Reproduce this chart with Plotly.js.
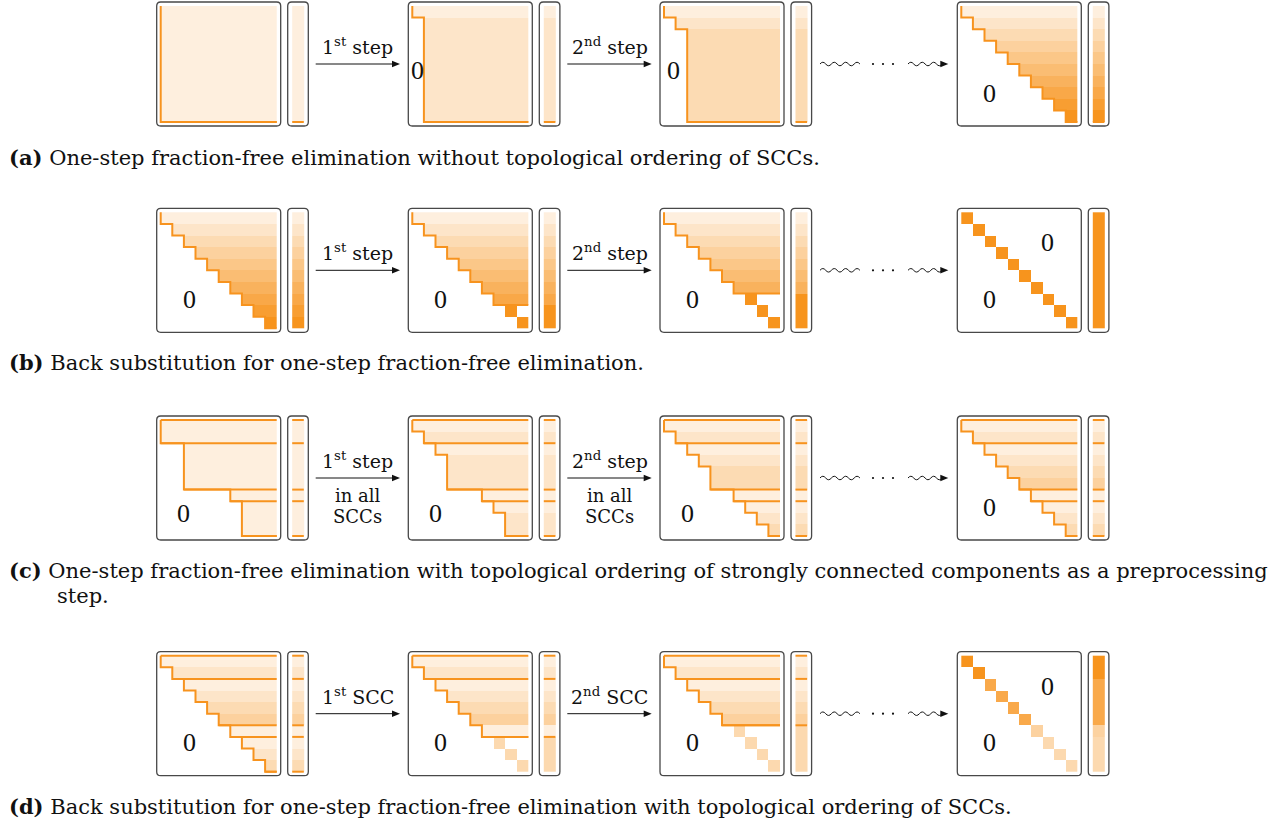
<!DOCTYPE html>
<html><head><meta charset="utf-8">
<script src="https://cdn.plot.ly/plotly-3.0.1.min.js"></script>
<style>html,body{margin:0;padding:0;background:#fff}#chart{width:1273px;height:823px}</style>
</head><body><div id="chart"></div>
<script>
// ---------------- data ----------------
// Each matrix is 10x10. "start" = first nonzero column of each row (-1 = only the diagonal entry),
// "level" = shade level of each row (0 = white ... 10 = full orange).
const D = -1;
// (a) one-step fraction-free elimination
const a1Start = [0,0,0,0,0,0,0,0,0,0], a1Level = [1,1,1,1,1,1,1,1,1,1];
const a2Start = [0,1,1,1,1,1,1,1,1,1], a2Level = [1,2,2,2,2,2,2,2,2,2];
const a3Start = [0,1,2,2,2,2,2,2,2,2], a3Level = [1,2,3,3,3,3,3,3,3,3];
const a4Start = [0,1,2,3,4,5,6,7,8,9], a4Level = [1,2,3,4,5,6,7,8,9,10];
// (b) back substitution
const b1Start = [0,1,2,3,4,5,6,7,8,9], b1Level = [1,2,3,4,5,6,7,8,9,10];
const b2Start = [0,1,2,3,4,5,6,7,D,D], b2Level = [1,2,3,4,5,6,7,8,10,10];
const b3Start = [0,1,2,3,4,5,6,D,D,D], b3Level = [1,2,3,4,5,6,7,10,10,10];
const b4Start = [D,D,D,D,D,D,D,D,D,D], b4Level = [10,10,10,10,10,10,10,10,10,10];
// (c) elimination with SCC ordering (SCC sizes 2,4,1,3)
const sccBounds = [0,2,6,7,10];
const c1Start = [0,0,2,2,2,2,6,7,7,7], c1Level = [1,1,1,1,1,1,1,1,1,1];
const c2Start = [0,1,2,3,3,3,6,7,8,8], c2Level = [1,2,1,2,2,2,1,1,2,2];
const c3Start = [0,1,2,3,4,4,6,7,8,9], c3Level = [1,2,1,2,3,3,1,1,2,3];
const c4Start = [0,1,2,3,4,5,6,7,8,9], c4Level = [1,2,1,2,3,4,1,1,2,3];
// (d) back substitution with SCC ordering
const d1Start = [0,1,2,3,4,5,6,7,8,9], d1Level = [1,2,1,2,3,4,1,1,2,3];
const d2Start = [0,1,2,3,4,5,6,D,D,D], d2Level = [1,2,1,2,3,4,1,3.2,3.2,3.2];
const d3Start = [0,1,2,3,4,5,D,D,D,D], d3Level = [1,2,1,2,3,4,3.2,3.2,3.2,3.2];
const d4Start = [D,D,D,D,D,D,D,D,D,D], d4Level = [10,10,7.9,7.9,7.9,7.9,3.9,3.2,3.2,3.2];
const d2Bounds = [0,2,7], d3Bounds = [0,2,6];

const stepLabels = [
  ['1<sup>st</sup> step','2<sup>nd</sup> step'],
  ['1<sup>st</sup> step','2<sup>nd</sup> step'],
  ['1<sup>st</sup> step','2<sup>nd</sup> step'],
  ['1<sup>st</sup> SCC','2<sup>nd</sup> SCC']
];
const subLabels = [[],[],['in all','SCCs'],[]];
const captions = [
  ['(a)','One-step fraction-free elimination without topological ordering of SCCs.'],
  ['(b)','Back substitution for one-step fraction-free elimination.'],
  ['(c)','One-step fraction-free elimination with topological ordering of strongly connected components as a preprocessing'],
  ['(d)','Back substitution for one-step fraction-free elimination with topological ordering of SCCs.']
];
const captionCont = 'step.';

// ---------------- layout geometry ----------------
const N = 10, CELL = 11.6, PAD = 4, BOX = N*CELL + 2*PAD;
const VEC_OFF = 131, VPAD = 4.5, VEC_W = CELL + 2*VPAD;
const panelLeft = [156.7, 408.3, 660, 957.3];
const rowTop = [2, 208.3, 416, 651.7];
const captionY = [157, 362, 570, 806];
const ORANGE = '#f7931e', BORDER = '#484848';
const FONT = 'Liberation Serif, Times New Roman, serif';
const WIDE = 'DejaVu Serif, serif';

const TRI0 = [32.5, 91], SCC0 = [27, 97];
const panels = [
  {r:0,c:0,start:a1Start,level:a1Level,stair:10,hl:[10],zeros:[]},
  {r:0,c:1,start:a2Start,level:a2Level,stair:10,hl:[10],zeros:[[8.8,68]]},
  {r:0,c:2,start:a3Start,level:a3Level,stair:10,hl:[10],zeros:[[13.5,68]]},
  {r:0,c:3,start:a4Start,level:a4Level,stair:10,hl:[10],zeros:[TRI0]},
  {r:1,c:0,start:b1Start,level:b1Level,stair:10,hl:[],zeros:[TRI0]},
  {r:1,c:1,start:b2Start,level:b2Level,stair:8,hl:[],zeros:[TRI0]},
  {r:1,c:2,start:b3Start,level:b3Level,stair:7,hl:[],zeros:[TRI0]},
  {r:1,c:3,start:b4Start,level:b4Level,stair:0,hl:[],zeros:[[90,34.5],TRI0]},
  {r:2,c:0,start:c1Start,level:c1Level,stair:10,hl:sccBounds,zeros:[SCC0]},
  {r:2,c:1,start:c2Start,level:c2Level,stair:10,hl:sccBounds,zeros:[SCC0]},
  {r:2,c:2,start:c3Start,level:c3Level,stair:10,hl:sccBounds,zeros:[SCC0]},
  {r:2,c:3,start:c4Start,level:c4Level,stair:10,hl:sccBounds,zeros:[TRI0]},
  {r:3,c:0,start:d1Start,level:d1Level,stair:10,hl:sccBounds,zeros:[TRI0]},
  {r:3,c:1,start:d2Start,level:d2Level,stair:7,hl:d2Bounds,zeros:[TRI0]},
  {r:3,c:2,start:d3Start,level:d3Level,stair:6,hl:d3Bounds,zeros:[TRI0]},
  {r:3,c:3,start:d4Start,level:d4Level,stair:0,hl:[],zeros:[[90,34.5],TRI0]}
];

const colorscale = [[0,'#ffffff'],[1,'#f7941d']];
const ZMIN = -0.53, ZMAX = 10;

const traces = [], shapes = [], annotations = [];

function rrect(x0,y0,x1,y1,r){
  return `M${x0+r},${y0} H${x1-r} Q${x1},${y0} ${x1},${y0+r} V${y1-r} Q${x1},${y1} ${x1-r},${y1} H${x0+r} Q${x0},${y1} ${x0},${y1-r} V${y0+r} Q${x0},${y0} ${x0+r},${y0} Z`;
}

panels.forEach(p => {
  const L = panelLeft[p.c], T = rowTop[p.r];
  const X = col => L + PAD + col*CELL;
  const Y = row => T + PAD + row*CELL;
  const VL = L + VEC_OFF + VPAD;
  // matrix cells
  const z = [];
  for (let i = 0; i < N; i++) {
    const row = [];
    for (let j = 0; j < N; j++) {
      const s = p.start[i];
      row.push((s === D ? j === i : j >= s) ? p.level[i] : null);
    }
    z.push(row);
  }
  traces.push({type:'heatmap', z, x0:L+PAD+CELL/2, dx:CELL, y0:T+PAD+CELL/2, dy:CELL,
    colorscale, zmin:ZMIN, zmax:ZMAX, showscale:false, hoverinfo:'skip'});
  // right-hand side vector
  traces.push({type:'heatmap', z:p.level.map(v=>[v]), x0:VL+CELL/2, dx:CELL, y0:T+PAD+CELL/2, dy:CELL,
    colorscale, zmin:ZMIN, zmax:ZMAX, showscale:false, hoverinfo:'skip'});
  // orange outline (staircase + block boundaries)
  const lx = [], ly = [];
  if (p.stair > 0) {
    lx.push(X(p.start[0])); ly.push(Y(0));
    for (let i = 0; i < p.stair; i++) {
      lx.push(X(p.start[i])); ly.push(Y(i+1));
      if (i < p.stair-1) { lx.push(X(p.start[i+1])); ly.push(Y(i+1)); }
    }
    lx.push(X(N)); ly.push(Y(p.stair));
    lx.push(null); ly.push(null);
  }
  p.hl.forEach(b => {
    const s = b === 0 ? p.start[0] : p.start[b-1];
    lx.push(X(s), X(N), null); ly.push(Y(b), Y(b), null);
    lx.push(VL, VL+CELL, null); ly.push(Y(b), Y(b), null);
  });
  if (lx.length) traces.push({type:'scatter', mode:'lines', x:lx, y:ly, hoverinfo:'skip',
    line:{color:ORANGE, width:2}, connectgaps:false});
  // boxes
  shapes.push({type:'path', path:rrect(L,T,L+BOX,T+BOX,4), line:{color:BORDER,width:1.3}, layer:'above'});
  shapes.push({type:'path', path:rrect(L+VEC_OFF,T,L+VEC_OFF+VEC_W,T+BOX,4), line:{color:BORDER,width:1.3}, layer:'above'});
  // zero labels
  p.zeros.forEach(zp => annotations.push({x:L+zp[0], y:T+zp[1], text:'0', showarrow:false,
    xanchor:'center', yanchor:'middle', font:{family:FONT,size:26,color:'#111'}}));
});

// arrows between panels
function arrowHead(xt, y){
  return `M${xt},${y} L${xt-8},${y-3.2} L${xt-8},${y+3.2} Z`;
}
rowTop.forEach((T, r) => {
  const yc = T + BOX/2;
  for (let k = 0; k < 2; k++) {
    const x1 = panelLeft[k] + 159, x2 = panelLeft[k+1] - 8.3;
    shapes.push({type:'line', x0:x1, x1:x2-6, y0:yc, y1:yc, line:{color:'#111',width:1}});
    shapes.push({type:'path', path:arrowHead(x2,yc), fillcolor:'#111', line:{width:0}});
    annotations.push({x:(x1+x2)/2, y:yc-18, text:stepLabels[r][k], showarrow:false,
      xanchor:'center', yanchor:'middle', font:{family:WIDE,size:19,color:'#111'}});
    subLabels[r].forEach((t, m) => annotations.push({x:(x1+x2)/2, y:yc+17+21*m, text:t, showarrow:false,
      xanchor:'center', yanchor:'middle', font:{family:WIDE,size:18,color:'#111'}}));
  }
  // wavy "continue" arrow
  const wx0 = panelLeft[2] + 160, half = 5.7;
  let path = `M${wx0},${yc}`;
  for (let h = 0; h < 7; h++) {
    const xs = wx0 + h*half, sgn = h % 2 ? 1 : -1;
    path += ` Q${xs+half/2},${yc+sgn*3.5} ${xs+half},${yc}`;
  }
  shapes.push({type:'path', path, line:{color:'#111',width:1}});
  const wx1 = panelLeft[2] + 248;
  path = `M${wx1},${yc}`;
  for (let h = 0; h < 6; h++) {
    const xs = wx1 + h*half, sgn = h % 2 ? 1 : -1;
    path += ` Q${xs+half/2},${yc+sgn*3.5} ${xs+half},${yc}`;
  }
  shapes.push({type:'path', path, line:{color:'#111',width:1}});
  const tip = panelLeft[3] - 9;
  shapes.push({type:'path', path:arrowHead(tip,yc), fillcolor:'#111', line:{width:0}});
  [213, 223, 233].forEach(dx => shapes.push({type:'circle', x0:panelLeft[2]+dx-1.1, x1:panelLeft[2]+dx+1.1,
    y0:yc-1.1, y1:yc+1.1, fillcolor:'#111', line:{width:0}}));
});

// captions
captions.forEach((c, r) => {
  annotations.push({x:7, y:captionY[r], text:'<b>'+c[0]+'</b> '+c[1], showarrow:false,
    xanchor:'left', yanchor:'middle', font:{family:WIDE,size:21,color:'#111'}});
});
annotations.push({x:55, y:captionY[2]+26, text:captionCont, showarrow:false,
  xanchor:'left', yanchor:'middle', font:{family:WIDE,size:21,color:'#111'}});

const layout = {
  width:1273, height:823, margin:{l:0,r:0,t:0,b:0},
  paper_bgcolor:'#ffffff', plot_bgcolor:'#ffffff', showlegend:false,
  xaxis:{range:[0,1273], visible:false, fixedrange:true},
  yaxis:{range:[823,0], visible:false, fixedrange:true},
  shapes, annotations
};
Plotly.newPlot('chart', traces, layout, {staticPlot:true, displayModeBar:false});
</script>
</body></html>
